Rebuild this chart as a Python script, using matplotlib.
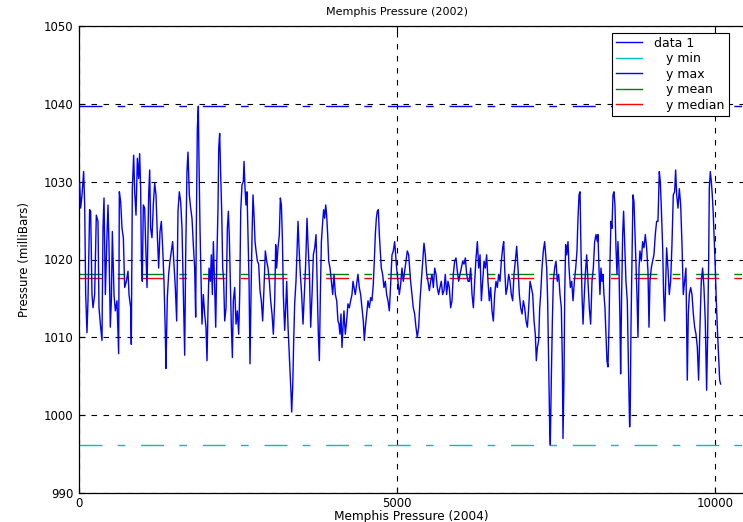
import matplotlib
matplotlib.use("Agg")
import matplotlib.pyplot as plt

# Pressure trace (sample index, milliBars)
sample = [0, 15, 31, 52, 78, 94, 110, 130, 146, 172, 188, 209, 225, 251, 277, 303, 319, 345, 366, 382,
          398, 419, 445, 461, 476, 497, 513, 529, 555, 576, 602, 628, 639, 660, 681, 702, 723, 749, 775, 791,
          817, 827, 843, 864, 880, 901, 922, 943, 958, 974, 985, 1000, 1016, 1037, 1053, 1074, 1100, 1116, 1131, 1152,
          1173, 1194, 1215, 1236, 1257, 1278, 1299, 1320, 1341, 1362, 1372, 1393, 1414, 1435, 1456, 1477, 1498, 1519, 1540, 1561,
          1582, 1603, 1624, 1645, 1666, 1682, 1702, 1718, 1739, 1760, 1781, 1802, 1823, 1839, 1849, 1865, 1881, 1891, 1907, 1928,
          1938, 1959, 1980, 2001, 2017, 2033,
          2049, 2070, 2085, 2101, 2117, 2138, 2154, 2169, 2190, 2201, 2216, 2232, 2248, 2264, 2279, 2295, 2316, 2337, 2353, 2368,
          2384, 2400, 2416, 2431, 2452, 2473, 2494, 2515, 2531, 2547, 2567, 2588, 2599, 2615, 2630, 2646, 2662, 2678, 2693, 2709,
          2725, 2740, 2756, 2772, 2788, 2809, 2829, 2850, 2871, 2892, 2913, 2934, 2955, 2976, 2997, 3018, 3039, 3060, 3081, 3097,
          3112, 3133, 3154, 3170, 3186, 3202, 3217, 3238, 3254, 3270, 3291, 3306, 3322, 3338, 3348, 3364, 3380, 3395, 3416, 3432,
          3448, 3464, 3484, 3505, 3526, 3547, 3568, 3589, 3605, 3626, 3647, 3668, 3689, 3710, 3731, 3752, 3767, 3783, 3799, 3815,
          3836, 3851, 3867, 3883, 3898, 3914, 3930, 3951, 3972, 3993, 4014, 4035, 4056, 4076,
          4092, 4107, 4123, 4139, 4155, 4170, 4191, 4212, 4233, 4254, 4275, 4296, 4312, 4328, 4348, 4369, 4390, 4411, 4432, 4453,
          4474, 4490, 4506, 4527, 4548, 4569, 4590, 4610, 4631, 4647, 4663, 4679, 4694, 4710, 4726, 4741, 4757, 4778, 4799, 4820,
          4841, 4862, 4883, 4904, 4925, 4946, 4967, 4983, 4998, 5019, 5040, 5061, 5082, 5103, 5124, 5145, 5166, 5187, 5203, 5218,
          5239, 5260, 5281, 5302, 5323, 5344, 5365, 5386, 5407, 5428, 5449, 5470, 5491, 5512, 5533, 5554, 5575, 5596, 5617, 5637,
          5658, 5679, 5700, 5721, 5742, 5763, 5784, 5805, 5826, 5847, 5868, 5889, 5910, 5931, 5952, 5973, 5994, 6015, 6036, 6057,
          6078, 6099, 6120,
          6141, 6162, 6183, 6204, 6225, 6246, 6267, 6288, 6309, 6330, 6351, 6372, 6392, 6413, 6434, 6455, 6476, 6497, 6518, 6539,
          6560, 6581, 6602, 6623, 6644, 6665, 6681, 6696, 6717, 6738, 6759, 6780, 6801, 6822, 6843, 6864, 6885, 6906, 6927, 6948,
          6969, 6990, 7011, 7032, 7053, 7074, 7095, 7116, 7137, 7158, 7178, 7194, 7210, 7231, 7247, 7262, 7283, 7304, 7325, 7341,
          7357, 7372, 7388, 7404, 7414, 7430, 7446, 7461, 7482, 7503, 7524, 7545, 7566, 7587, 7603, 7613, 7629, 7640, 7655, 7671,
          7692, 7708, 7729, 7750, 7771, 7792, 7813, 7833, 7849, 7865, 7881, 7896, 7912, 7928, 7944, 7964, 7985, 8006, 8027, 8048,
          8069, 8090, 8111, 8132, 8153,
          8163, 8179, 8194, 8210, 8226, 8242, 8257, 8273, 8289, 8304, 8320, 8336, 8352, 8367, 8383, 8399, 8415, 8430, 8446, 8462,
          8477, 8493, 8509, 8519, 8535, 8551, 8566, 8582, 8603, 8624, 8645, 8661, 8671, 8682, 8697, 8713, 8729, 8745, 8760, 8776,
          8792, 8808, 8823, 8844, 8865, 8886, 8907, 8928, 8949, 8965, 8980, 9001, 9022, 9043, 9064, 9085, 9106, 9127, 9143, 9159,
          9180, 9195, 9211, 9227, 9242, 9263, 9284, 9305, 9326, 9347, 9368, 9384, 9400, 9421, 9442, 9463, 9484, 9504, 9525, 9546,
          9567, 9583, 9599, 9620, 9641, 9662, 9683, 9704, 9725, 9745, 9766, 9787, 9808, 9829, 9850, 9871, 9887, 9903, 9913, 9929,
          9945, 9960, 9976, 9992, 10007, 10023, 10039, 10060, 10076, 10091]

pressure = [1029.6, 1029.8, 1026.6, 1028.3, 1031.3, 1027.0, 1015.5, 1010.6, 1014.7, 1026.4, 1026.2, 1015.5, 1013.8, 1015.5, 1025.7, 1024.9, 1013.8, 1011.3, 1009.6, 1024.0,
            1027.9, 1015.5, 1023.2, 1027.0, 1021.9, 1011.3, 1014.7, 1023.6, 1015.5, 1013.4, 1014.7, 1007.9, 1028.7, 1027.4, 1024.0, 1022.8, 1016.4, 1017.2, 1018.5, 1015.5,
            1013.8, 1009.1, 1029.1, 1033.4, 1028.7, 1025.7, 1033.0, 1030.4, 1033.6, 1029.1, 1020.2, 1017.2, 1027.0, 1026.6, 1021.9, 1016.4, 1028.3, 1031.5, 1024.0, 1022.8,
            1027.0, 1029.8, 1028.3, 1023.2, 1018.9, 1023.6, 1024.9, 1021.5, 1017.2, 1010.4, 1006.0, 1015.1, 1018.1, 1019.8, 1021.1, 1022.3, 1019.4, 1016.4, 1012.1, 1026.2,
            1028.7, 1027.4, 1024.0, 1015.5, 1007.7, 1020.6, 1031.3, 1033.8, 1028.3, 1026.6, 1025.3, 1021.9, 1018.9, 1012.6, 1024.0, 1036.8, 1039.7, 1032.6, 1024.0, 1015.5,
            1011.7, 1015.5, 1013.0, 1011.3, 1007.0, 1013.8,
            1018.9, 1017.2, 1020.6, 1015.5, 1022.3, 1016.4, 1011.3, 1018.9, 1026.6, 1034.3, 1036.2, 1030.9, 1026.2, 1018.9, 1017.2, 1012.1, 1013.8, 1024.0, 1026.2, 1022.8,
            1017.2, 1011.3, 1007.4, 1014.7, 1016.4, 1011.7, 1013.4, 1010.4, 1015.5, 1026.2, 1029.6, 1030.0, 1032.6, 1029.1, 1027.0, 1028.7, 1022.8, 1017.2, 1006.6, 1015.5,
            1023.2, 1028.3, 1025.7, 1022.3, 1021.1, 1019.8, 1019.4, 1016.0, 1014.7, 1012.1, 1016.4, 1021.1, 1019.8, 1018.9, 1017.2, 1014.7, 1013.0, 1010.4, 1014.7, 1021.9,
            1018.9, 1021.5, 1023.2, 1027.9, 1027.0, 1022.8, 1015.5, 1010.9, 1013.8, 1017.2, 1011.3, 1008.7, 1005.7, 1002.8, 1000.4, 1003.6, 1009.6, 1014.3, 1017.2, 1021.1,
            1024.9, 1021.5, 1018.1, 1015.5, 1011.7, 1015.5, 1019.4, 1025.3, 1021.9, 1018.5, 1011.3, 1015.5, 1020.6, 1021.5, 1023.2, 1015.5, 1010.4, 1007.0, 1015.5, 1022.3,
            1024.9, 1026.4, 1025.3, 1027.0, 1025.7, 1023.2, 1019.8, 1018.9, 1017.2, 1015.5, 1018.1, 1015.5, 1014.7, 1012.1,
            1011.7, 1010.4, 1013.0, 1008.7, 1011.3, 1013.4, 1010.4, 1012.1, 1014.3, 1013.8, 1014.7, 1015.5, 1017.2, 1016.4, 1015.5, 1016.8, 1018.1, 1016.4, 1015.5, 1013.8,
            1012.1, 1009.6, 1011.3, 1013.0, 1014.7, 1013.8, 1015.1, 1014.7, 1016.8, 1019.8, 1023.2, 1025.3, 1026.2, 1026.4, 1023.2, 1021.1, 1018.9, 1018.1, 1016.4, 1017.2,
            1015.5, 1014.7, 1013.4, 1016.8, 1020.6, 1021.1, 1022.3, 1020.6, 1018.9, 1017.2, 1015.5, 1016.8, 1018.9, 1017.2, 1018.5, 1019.8, 1021.1, 1020.6, 1018.9, 1017.2,
            1015.5, 1013.8, 1013.0, 1011.3, 1010.0, 1011.3, 1014.7, 1017.2, 1019.8, 1022.1, 1020.6, 1018.1, 1017.2, 1016.0, 1017.2, 1018.1, 1016.4, 1018.9, 1018.1, 1016.4,
            1015.5, 1016.4, 1017.2, 1015.5, 1016.0, 1018.1, 1015.5, 1017.2, 1016.4, 1013.8, 1014.7, 1018.1, 1019.8, 1020.2, 1018.5, 1017.2, 1018.1, 1018.9, 1019.8, 1019.4,
            1020.2, 1018.1, 1017.2,
            1017.2, 1018.9, 1015.5, 1013.8, 1017.2, 1020.2, 1022.3, 1018.9, 1020.6, 1014.7, 1017.2, 1019.8, 1018.9, 1020.6, 1017.2, 1014.7, 1016.4, 1013.4, 1012.1, 1015.5,
            1017.2, 1016.4, 1018.1, 1017.2, 1019.8, 1021.5, 1022.3, 1018.9, 1015.5, 1016.4, 1018.1, 1017.2, 1015.5, 1014.7, 1018.1, 1019.8, 1021.7, 1018.9, 1015.5, 1013.8,
            1013.0, 1014.7, 1013.8, 1012.1, 1011.3, 1013.8, 1017.2, 1016.4, 1015.5, 1012.1, 1010.4, 1007.0, 1008.7, 1009.6, 1013.8, 1015.5, 1018.9, 1021.1, 1022.3, 1020.6,
            1018.9, 1014.7, 1007.0, 998.5, 996.2, 1004.9, 1012.1, 1017.2, 1018.9, 1019.8, 1017.2, 1018.1, 1015.5, 1013.8, 1007.0, 997.0, 1004.9, 1015.5, 1021.9, 1020.6,
            1022.3, 1018.9, 1016.4, 1017.2, 1014.7, 1017.2, 1018.9, 1021.1, 1025.3, 1028.3, 1028.7, 1021.1, 1015.5, 1011.7, 1014.7, 1018.1, 1020.6, 1017.2, 1013.8, 1011.7,
            1017.2, 1018.9, 1022.3, 1023.2, 1022.3,
            1023.2, 1018.9, 1015.5, 1018.9, 1017.2, 1018.1, 1015.5, 1013.8, 1010.4, 1007.0, 1006.2, 1011.3, 1019.8, 1024.9, 1024.0, 1028.3, 1028.7, 1027.0, 1021.5, 1018.1,
            1022.3, 1018.9, 1012.1, 1005.3, 1015.5, 1023.2, 1026.2, 1022.3, 1017.2, 1014.7, 1004.9, 998.5, 1001.1, 1011.3, 1019.8, 1028.3, 1027.4, 1023.2, 1018.9, 1015.5,
            1010.0, 1018.9, 1021.1, 1019.8, 1022.3, 1021.5, 1023.2, 1021.5, 1018.5, 1011.3, 1017.2, 1018.9, 1019.8, 1020.6, 1023.2, 1024.9, 1024.9, 1031.3, 1030.0, 1026.6,
            1021.5, 1015.5, 1012.1, 1017.2, 1021.5, 1018.9, 1015.5, 1017.2, 1021.9, 1028.3, 1028.7, 1031.5, 1028.3, 1026.6, 1029.1, 1027.0, 1021.9, 1015.5, 1017.2, 1018.9,
            1004.5, 1013.0, 1015.5, 1016.4, 1015.5, 1013.0, 1011.3, 1010.4, 1008.7, 1004.5, 1011.3, 1017.2, 1018.9, 1016.4, 1012.1, 1003.2, 1010.4, 1019.8, 1029.1, 1031.3,
            1030.0, 1028.3, 1025.7, 1022.3, 1018.9, 1014.7, 1011.3, 1007.4, 1004.5, 1004.0]

# Data statistics lines as shown
y_min = 996.2
y_max = 1039.7
y_mean = 1018.2
y_median = 1017.6

xticks = [0, 5000, 10000]
yticks = [990, 1000, 1010, 1020, 1030, 1040, 1050]

fig = plt.figure(figsize=(7.43, 5.22), dpi=100)
ax = fig.add_axes([78.7 / 743, 29 / 522, 1 - 78.7 / 743, 467 / 522])

dashdot = (0, (16.5, 11, 5.5, 11.4))
ax.plot(sample, pressure, color=(0, 0, 1), lw=1.0, label="data 1", zorder=3)
ax.axhline(y_min, color=(0, 0.75, 0.75), lw=1, ls=dashdot, label="   y min", zorder=2)
ax.axhline(y_max, color=(0, 0, 1), lw=1, ls=dashdot, label="   y max", zorder=2)
ax.axhline(y_mean, color=(0, 0.5, 0), lw=1, ls=dashdot, label="   y mean", zorder=2)
ax.axhline(y_median, color=(1, 0, 0), lw=1, ls=dashdot, label="   y median", zorder=2)

ax.set_xlim(0, 664.3 * 15.72)
ax.set_ylim(990, 1050)
ax.set_xticks(xticks)
ax.set_yticks(yticks)
ax.grid(True, color="k", ls=(0, (5, 5.8)), lw=0.8)
ax.set_axisbelow(True)
ax.tick_params(direction="in", length=4, width=0.8, labelsize=8.5, top=True)
ax.tick_params(axis="y", pad=4)
ax.tick_params(axis="x", pad=3)
ax.spines["right"].set_visible(False)
for s in ["left", "top", "bottom"]:
    ax.spines[s].set_linewidth(0.9)

ax.set_xlabel("Memphis Pressure (2004)", fontsize=8.7)
ax.xaxis.set_label_coords(0.5, -0.036)
ax.set_ylabel("Pressure (milliBars)", fontsize=8.5)
ax.yaxis.set_label_coords(-0.072, 0.5)
fig.text(397 / 743, 1 - 12 / 522, "Memphis Pressure (2002)", ha="center", va="center", fontsize=8)

leg = ax.legend(loc="upper left", bbox_to_anchor=(612 / 743, 1 - 33 / 522), bbox_transform=fig.transFigure,
                fontsize=9, frameon=True, fancybox=False, framealpha=1, edgecolor="k",
                handlelength=2.1, handletextpad=1.0, labelspacing=0.2, borderpad=0.3, borderaxespad=0)
leg.get_frame().set_linewidth(0.8)
for h in leg.get_lines():
    h.set_linestyle("-")
    h.set_linewidth(1)

fig.savefig("out.png", dpi=100)
